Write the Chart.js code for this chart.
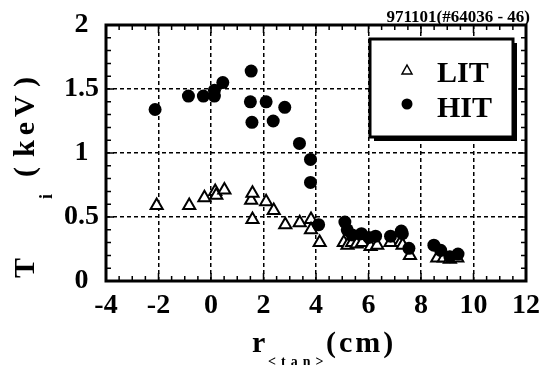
<!DOCTYPE html>
<html>
<head>
<meta charset="utf-8">
<script src="https://cdn.jsdelivr.net/npm/chart.js@4.4.1/dist/chart.umd.min.js"></script>
<style>
  body { margin: 0; background: #fff; }
  #wrap { width: 552px; height: 365px; }
</style>
</head>
<body>
<div id="wrap"><canvas id="chart1" width="552" height="365"></canvas></div>
<script>
// data (r_tan in cm, Ti in keV)
const litR  = [-2.07, -0.83, -0.25, 0.16, 0.2, 0.51, 1.53, 1.58, 1.58, 2.1, 2.39, 2.83, 3.38, 3.81, 3.81, 4.14, 5.06, 5.2, 5.38, 5.55, 5.76, 6.08, 6.33, 6.84, 7.22, 7.3, 7.58, 8.62, 8.87, 9.1, 9.38];
const litTi = [0.59, 0.59, 0.65, 0.70, 0.67, 0.71, 0.63, 0.685, 0.48, 0.62, 0.55, 0.44, 0.455, 0.48, 0.40, 0.30, 0.30, 0.28, 0.30, 0.29, 0.30, 0.27, 0.28, 0.30, 0.30, 0.28, 0.20, 0.18, 0.18, 0.17, 0.18];
const hitR  = [-2.13, -0.86, -0.29, 0.13, 0.13, 0.45, 1.53, 1.5, 2.1, 2.81, 1.56, 2.37, 3.37, 3.79, 3.79, 4.1, 5.1, 5.19, 5.38, 5.73, 6.01, 6.27, 6.84, 7.25, 7.29, 7.54, 8.49, 8.75, 9.1, 9.41];
const hitTi = [1.34, 1.445, 1.445, 1.445, 1.49, 1.55, 1.64, 1.40, 1.40, 1.357, 1.24, 1.25, 1.075, 0.95, 0.77, 0.44, 0.46, 0.40, 0.36, 0.37, 0.34, 0.35, 0.35, 0.39, 0.37, 0.255, 0.28, 0.24, 0.19, 0.21];

const seriesNames = ['LIT', 'HIT'];
const shotLabel = '971101(#64036 - 46)';
const xTitle = ['r', '<tan>', '(cm)'];
const yTitle = ['T', 'i', '(', 'keV', ')'];

const serif = '"Liberation Serif", "Times New Roman", serif';
Chart.defaults.font.family = serif;
Chart.defaults.color = '#000';

function toPoints(xs, ys) {
    return xs.map((v, i) => ({ x: v, y: ys[i] }));
}

// frame, inward ticks, axis titles, legend box
const decor = {
    id: 'decor',
    afterDraw(chart) {
        const { ctx, chartArea: a, scales: { x, y } } = chart;
        ctx.save();
        ctx.strokeStyle = '#000';
        ctx.fillStyle = '#000';

        // minor ticks
        ctx.lineWidth = 1.5;
        ctx.beginPath();
        for (let i = -8; i <= 24; i++) {
            const px = x.getPixelForValue(i / 2);
            const len = i % 4 === 0 ? 8 : 5;
            ctx.moveTo(px, a.bottom); ctx.lineTo(px, a.bottom - len);
            ctx.moveTo(px, a.top); ctx.lineTo(px, a.top + len);
        }
        for (let i = 0; i <= 20; i++) {
            const py = y.getPixelForValue(i / 10);
            const len = i % 5 === 0 ? 8 : 5;
            ctx.moveTo(a.left, py); ctx.lineTo(a.left + len, py);
            ctx.moveTo(a.right, py); ctx.lineTo(a.right - len, py);
        }
        ctx.stroke();

        ctx.lineWidth = 3;
        ctx.strokeRect(a.left, a.top, a.width, a.height);

        // shot label
        ctx.font = 'bold 17px ' + serif;
        ctx.textAlign = 'right';
        ctx.textBaseline = 'alphabetic';
        ctx.fillText(shotLabel, 530, 22);

        // x title
        ctx.textAlign = 'left';
        ctx.font = 'bold 30px ' + serif;
        ctx.fillText(xTitle[0], 252, 352);
        ctx.letterSpacing = '3px';
        ctx.fillText(xTitle[2], 326, 352);
        ctx.font = 'bold 14px ' + serif;
        ctx.letterSpacing = '5px';
        ctx.fillText(xTitle[1], 268, 366);
        ctx.letterSpacing = '0px';

        // y title (rotated, reads bottom to top)
        ctx.translate(34, 178);
        ctx.rotate(-Math.PI / 2);
        ctx.font = 'bold 30px ' + serif;
        ctx.fillText(yTitle[0], -100, 0);
        ctx.font = 'bold 18px ' + serif;
        ctx.fillText(yTitle[1], -21, 18);
        ctx.font = 'bold 30px ' + serif;
        ctx.fillText(yTitle[2], 1, 0);
        ctx.letterSpacing = '5px';
        ctx.fillText(yTitle[3], 21, 0);
        ctx.letterSpacing = '0px';
        ctx.fillText(yTitle[4], 91, 0);
        ctx.setTransform(1, 0, 0, 1, 0, 0);

        // legend
        const bx = 370, by = 39, bw = 143, bh = 98;
        ctx.fillRect(bx + 4, by + 4, bw, bh);
        ctx.fillStyle = '#fff';
        ctx.fillRect(bx, by, bw, bh);
        ctx.lineWidth = 3;
        ctx.strokeRect(bx, by, bw, bh);

        ctx.lineWidth = 1.5;
        ctx.beginPath();
        ctx.moveTo(407, 65); ctx.lineTo(412, 74); ctx.lineTo(402, 74); ctx.closePath();
        ctx.fill(); ctx.stroke();
        ctx.fillStyle = '#000';
        ctx.beginPath();
        ctx.arc(407, 104, 5.5, 0, Math.PI * 2);
        ctx.fill();

        ctx.font = 'bold 30px ' + serif;
        ctx.fillText(seriesNames[0], 437, 82);
        ctx.fillText(seriesNames[1], 437, 117);
        ctx.restore();
    }
};

const ctx1 = document.getElementById('chart1');

new Chart(ctx1, {
    type: 'scatter',
    data: {
        datasets: [{
            label: seriesNames[0],
            data: toPoints(litR, litTi),
            pointStyle: 'triangle',
            pointRadius: 7,
            pointBackgroundColor: '#fff',
            pointBorderColor: '#000',
            pointBorderWidth: 2,
            order: 2
        }, {
            label: seriesNames[1],
            data: toPoints(hitR, hitTi),
            pointStyle: 'circle',
            pointRadius: 6.5,
            pointBackgroundColor: '#000',
            pointBorderColor: '#000',
            pointBorderWidth: 0,
            order: 1
        }]
    },
    plugins: [decor],
    options: {
        responsive: false,
        animation: false,
        events: [],
        layout: {
            padding: { left: 0, top: 25, right: 26, bottom: 0 }
        },
        plugins: {
            legend: { display: false },
            tooltip: { enabled: false }
        },
        scales: {
            x: {
                type: 'linear',
                min: -4,
                max: 12,
                afterFit: (s) => { s.height = 84; },
                ticks: {
                    stepSize: 2,
                    padding: 8,
                    font: { size: 28, weight: 'bold' }
                },
                grid: {
                    color: '#000',
                    lineWidth: 1.5,
                    drawTicks: false
                },
                border: { display: false, dash: [4, 3] }
            },
            y: {
                min: 0,
                max: 2,
                afterFit: (s) => { s.width = 106; },
                ticks: {
                    stepSize: 0.5,
                    padding: 7,
                    crossAlign: 'center',
                    font: { size: 28, weight: 'bold' },
                    callback: (v) => String(Math.round(v * 10) / 10)
                },
                grid: {
                    color: '#000',
                    lineWidth: 1.5,
                    drawTicks: false
                },
                border: { display: false, dash: [4, 3] }
            }
        }
    }
});
</script>
</body>
</html>
